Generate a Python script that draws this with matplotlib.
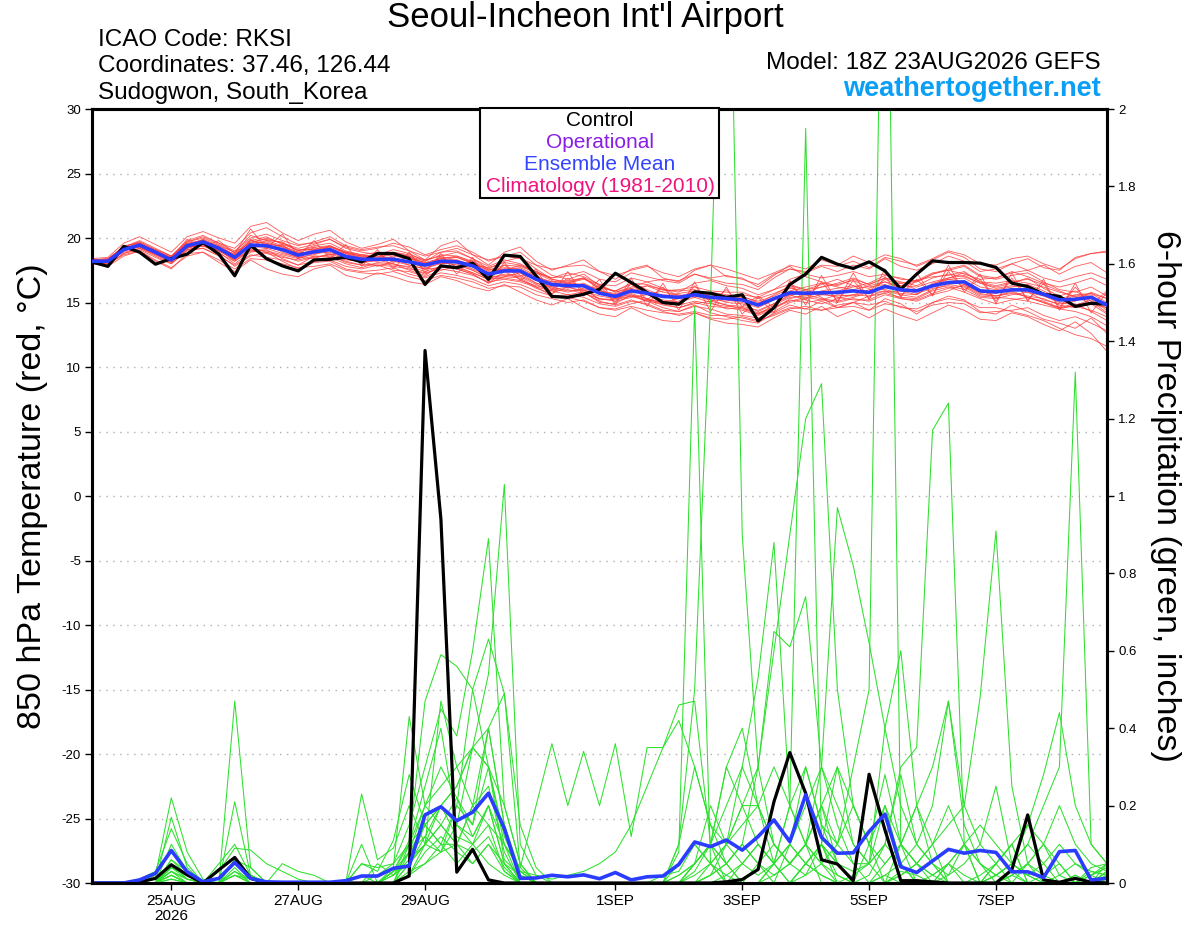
import numpy as np
import pandas as pd
import matplotlib
matplotlib.use("Agg")
import matplotlib.pyplot as plt
from matplotlib.patches import Rectangle

plt.rcParams['font.family'] = ['Liberation Sans', 'DejaVu Sans']

# ---------------- DATA ----------------
times = pd.date_range('2026-08-23 18:00', periods=65, freq='6h')

tick_dates = ['2026-08-25', '2026-08-27', '2026-08-29', '2026-09-01',
              '2026-09-03', '2026-09-05', '2026-09-07']
tick_labels = ['25AUG\n2026', '27AUG', '29AUG', '1SEP', '3SEP', '5SEP', '7SEP']

temp_ticks = [-30, -25, -20, -15, -10, -5, 0, 5, 10, 15, 20, 25, 30]
precip_ticks = [0, 0.2, 0.4, 0.6, 0.8, 1.0, 1.2, 1.4, 1.6, 1.8, 2.0]

control_temp = [18.15, 17.8, 19.35, 18.9, 17.97, 18.4, 18.75, 19.65, 18.75, 17.07,
                19.45, 18.4, 17.84, 17.45, 18.3, 18.35, 18.5, 18.15, 18.8, 18.8,
                18.4, 16.4, 17.84, 17.7, 18.05, 16.8, 18.67, 18.57, 17.07, 15.47,
                15.4, 15.64, 16.03, 17.27, 16.55, 15.78, 15.0, 14.87, 15.82, 15.72,
                15.4, 15.6, 13.57, 14.6, 16.4, 17.2, 18.5, 17.97, 17.64, 18.15,
                17.45, 16.03, 17.2, 18.23, 18.1, 18.1, 18.05, 17.72, 16.5, 16.24,
                15.64, 15.47, 14.7, 14.94, 14.87]

mean_temp = [18.2, 18.2, 19.1, 19.45, 18.9, 18.3, 19.4, 19.7, 19.2, 18.5,
             19.45, 19.4, 19.1, 18.67, 18.93, 19.1, 18.57, 18.35, 18.35, 18.35,
             18.15, 17.9, 18.2, 18.15, 17.84, 17.2, 17.45, 17.45, 16.8, 16.4,
             16.3, 16.3, 15.72, 15.47, 15.9, 15.72, 15.47, 15.4, 15.6, 15.4,
             15.31, 15.2, 14.8, 15.3, 15.75, 15.72, 15.75, 15.78, 15.9, 15.78,
             16.24, 15.98, 15.9, 16.3, 16.55, 16.6, 15.9, 15.82, 15.98, 15.98,
             15.64, 15.2, 15.25, 15.4, 14.8]

control_precip = [0, 0, 0, .003, .012, .047, .021, 0, .034, .066,
                  .012, 0, 0, 0, 0, 0, 0, 0, 0, 0,
                  .018, 1.376, .94, .028, .087, .008, 0, 0, 0, 0,
                  0, 0, 0, 0, 0, 0, 0, 0, 0, 0,
                  .003, .009, .035, .21, .337, .232, .06, .049, .006, .281,
                  .137, .006, .006, .003, 0, 0, 0, 0, .034, .176,
                  .008, .002, .012, .002, 0]

mean_precip = [0, 0, 0, .008, .025, .084, .029, .003, .012, .053,
               .012, .003, .002, .002, .002, .002, .006, .018, .018, .038,
               .044, .176, .197, .161, .183, .232, .141, .012, .013, .02,
               .016, .021, .011, .027, .008, .016, .018, .048, .106, .094,
               .111, .085, .12, .163, .107, .228, .118, .077, .078, .133,
               .178, .042, .027, .057, .087, .077, .084, .079, .029, .029,
               .014, .081, .084, .008, .012]

member_temps = [
 "18.3 | 18.4 19.3 19.8 19.2 | 18.6 19.8 20.2 19.6 | 19.2 20.4 20.8 20.1 | 19.5 19.6 19.9 19.2 | 18.9 18.7 19.1 18.8 | 18.2 18.9 19.0 18.4 | 17.6 18.2 18.5 17.6 | 16.8 16.5 16.9 16.0 | 15.4 15.6 15.1 14.6 | 14.3 14.8 14.2 13.9 | 13.6 13.4 14.2 14.8 | 14.5 15.1 14.6 15.0 | 14.4 15.3 14.9 14.1 | 15.0 15.5 15.2 14.3 | 14.1 14.8 14.3 13.7 | 13.4 13.0 13.8 12.6",
 "18.0 | 17.9 18.8 19.1 18.5 | 18.0 19.1 19.2 18.6 | 17.9 18.7 18.5 18.3 | 17.9 18.2 18.3 17.8 | 17.6 17.9 17.5 17.4 | 17.0 17.5 17.8 17.3 | 16.8 17.0 17.3 16.5 | 16.2 16.5 16.8 16.4 | 16.3 16.9 16.6 16.8 | 16.7 17.2 16.9 17.1 | 16.8 16.4 17.2 17.6 | 17.3 17.8 17.4 17.9 | 17.6 18.4 17.8 17.5 | 18.0 18.6 18.2 17.4 | 17.6 18.0 17.5 17.9 | 17.2 17.8 18.1 17.3",
 "18.2 | 18.3 19.0 19.6 18.8 | 18.5 19.2 19.9 19.0 | 18.8 19.9 19.2 19.5 | 18.4 19.3 18.7 18.9 | 18.0 18.8 18.1 18.6 | 17.5 18.6 17.7 18.3 | 17.0 17.9 17.1 17.2 | 16.0 16.9 15.9 16.3 | 15.0 16.5 15.2 16.2 | 14.8 16.3 15.0 16.0 | 14.7 15.5 14.6 16.4 | 15.2 16.6 15.1 16.7 | 15.3 17.0 15.5 16.8 | 15.6 17.4 16.0 16.8 | 15.1 16.9 15.2 16.5 | 14.6 16.2 14.8 15.9",
 "18.1 | 18.0 18.7 19.0 18.3 | 17.7 18.6 18.9 18.3 | 17.6 18.4 18.3 18.0 | 17.7 17.8 18.0 17.5 | 17.3 17.2 17.4 17.0 | 16.7 17.1 16.9 16.6 | 16.1 16.3 16.2 15.6 | 15.3 15.0 15.2 14.6 | 14.4 14.7 14.4 14.2 | 14.1 14.3 14.0 14.0 | 13.8 13.5 14.1 14.6 | 14.5 14.4 14.6 14.7 | 14.4 14.9 14.7 14.3 | 14.8 15.0 14.9 14.2 | 14.3 14.4 14.6 14.0 | 13.6 13.9 13.4 12.8",
 "18.3 | 18.2 19.2 19.6 19.0 | 18.4 19.5 19.8 19.4 | 18.7 19.7 19.9 19.6 | 19.2 19.5 19.9 19.3 | 19.0 19.2 19.6 19.3 | 18.7 19.1 19.4 18.9 | 18.2 18.6 18.9 17.9 | 17.1 16.8 17.2 16.3 | 15.8 16.1 15.6 15.2 | 15.0 15.4 15.0 14.5 | 14.6 14.1 14.6 15.1 | 15.4 15.2 15.6 15.5 | 15.9 16.8 16.3 16.6 | 17.2 17.5 17.8 17.0 | 16.8 17.1 17.3 16.6 | 16.0 15.8 16.2 15.5",
 "18.2 | 18.1 19.1 19.3 18.7 | 18.2 19.3 19.4 18.9 | 18.0 18.9 19.1 18.4 | 17.9 18.6 18.5 18.0 | 17.7 18.1 18.0 17.5 | 17.1 17.9 17.6 17.2 | 16.5 17.4 16.8 16.1 | 15.7 16.2 15.8 15.0 | 14.9 15.6 15.3 14.9 | 15.1 15.9 15.5 15.0 | 14.9 14.3 14.9 15.6 | 15.8 16.2 16.5 16.9 | 16.4 16.9 16.6 16.3 | 16.9 17.2 17.0 16.5 | 16.2 16.5 16.9 16.1 | 15.5 15.9 15.1 14.2",
 "18.2 | 18.3 19.1 19.4 19.0 | 18.5 19.6 19.6 19.3 | 18.6 19.3 19.5 19.4 | 18.9 18.8 19.4 18.8 | 18.6 18.5 18.7 18.5 | 18.1 18.4 18.6 18.2 | 17.6 17.5 17.9 17.3 | 16.7 16.1 16.5 15.9 | 15.6 15.8 16.3 15.8 | 15.6 15.4 15.8 15.6 | 15.5 15.0 15.3 15.9 | 16.2 16.5 16.2 16.0 | 16.3 16.6 16.1 15.7 | 16.1 16.3 16.0 15.4 | 15.3 15.6 15.8 15.2 | 14.9 15.1 15.8 15.3",
 "18.1 | 18.2 19.0 19.5 18.8 | 18.3 19.3 19.5 19.0 | 18.3 19.2 18.9 18.6 | 18.2 18.5 18.7 18.1 | 17.9 17.9 17.8 17.6 | 17.3 17.6 17.4 17.1 | 16.6 16.8 16.6 16.2 | 15.9 16.0 15.7 15.3 | 15.2 15.5 15.2 15.0 | 14.8 15.1 14.9 14.7 | 14.6 14.2 14.6 15.2 | 15.0 15.2 15.0 15.3 | 15.1 15.6 15.3 15.2 | 15.7 16.1 16.3 15.6 | 15.5 15.7 15.5 15.3 | 14.8 14.6 14.9 14.1",
 "18.2 | 18.2 19.2 19.5 18.9 | 18.3 19.5 19.9 19.4 | 18.9 20.2 19.8 19.7 | 19.0 19.3 19.4 18.9 | 18.6 18.6 18.8 18.4 | 18.0 18.5 18.5 18.1 | 17.5 17.9 17.8 17.3 | 16.9 17.1 17.4 16.8 | 16.6 17.3 17.0 16.7 | 16.5 17.2 16.8 16.5 | 16.4 16.0 16.9 17.6 | 17.4 17.9 17.8 18.2 | 17.7 18.5 18.2 17.9 | 18.4 19.0 18.7 18.0 | 17.9 18.4 18.6 18.0 | 17.6 18.4 18.8 18.9",
 "18.2 | 18.1 19.0 19.3 18.8 | 18.1 19.2 19.5 19.0 | 18.4 19.0 19.2 18.8 | 18.5 18.4 18.8 18.3 | 18.2 17.8 18.2 17.9 | 17.6 17.7 18.0 17.5 | 16.9 17.1 17.0 16.4 | 15.9 15.6 15.8 15.1 | 14.8 15.2 14.8 14.3 | 14.0 14.2 13.8 13.7 | 13.9 13.6 14.0 14.5 | 14.7 14.4 14.8 15.0 | 14.8 15.1 14.6 14.5 | 15.0 15.3 15.1 14.6 | 14.6 14.3 14.0 13.6 | 13.0 12.5 12.2 11.6",
 "18.3 | 18.4 19.3 19.7 19.1 | 18.6 19.6 19.8 19.3 | 18.3 19.6 19.7 19.3 | 18.6 19.1 19.2 18.7 | 18.5 18.6 18.3 18.1 | 17.9 18.4 18.3 17.8 | 17.3 17.6 17.4 16.9 | 16.6 16.5 16.4 15.9 | 15.7 16.0 15.8 15.6 | 15.5 15.8 15.6 15.4 | 15.4 15.1 15.5 16.1 | 15.9 15.6 15.5 15.6 | 15.5 15.9 15.6 15.4 | 16.0 16.4 16.2 15.5 | 15.4 15.3 15.1 14.8 | 14.5 14.8 15.0 14.6",
 "18.1 | 18.2 19.0 19.4 18.8 | 18.2 19.2 19.6 19.1 | 18.6 19.4 19.8 19.4 | 18.8 19.0 19.3 18.9 | 18.6 18.7 18.9 18.6 | 18.0 18.3 18.5 18.0 | 17.4 17.6 17.7 17.1 | 16.2 15.9 16.0 15.3 | 15.1 15.4 15.6 15.9 | 16.0 16.2 15.9 15.8 | 15.8 15.3 15.7 16.2 | 15.6 15.3 15.1 15.4 | 15.8 16.3 16.5 16.7 | 17.0 17.1 17.4 16.6 | 16.5 16.7 16.5 16.2 | 15.8 15.5 15.7 15.3",
 "18.2 | 18.3 19.2 19.6 19.0 | 18.4 19.3 19.5 19.1 | 18.2 19.1 19.0 18.7 | 18.4 18.8 18.9 18.4 | 18.1 18.3 18.0 17.7 | 17.2 17.8 17.6 17.2 | 16.5 17.0 16.9 16.2 | 15.5 15.4 15.1 14.6 | 14.5 14.9 15.2 14.8 | 14.6 15.0 14.7 14.6 | 14.4 14.0 14.5 15.3 | 15.6 15.9 16.1 16.3 | 16.1 16.6 16.3 16.2 | 16.6 16.9 17.1 16.5 | 16.1 16.3 16.2 15.7 | 15.2 15.5 14.9 14.6",
 "18.2 | 18.1 19.1 19.4 18.9 | 18.3 19.4 19.6 19.2 | 18.5 19.3 19.3 19.0 | 18.9 19.2 19.3 18.8 | 18.5 18.3 18.6 18.4 | 18.1 18.0 18.3 17.9 | 17.7 18.1 17.9 17.4 | 16.8 16.6 16.9 16.1 | 15.9 16.4 16.0 15.5 | 15.7 15.9 15.4 15.2 | 15.0 14.6 15.2 15.6 | 15.2 14.9 15.3 15.6 | 16.0 16.0 15.7 15.6 | 16.5 16.8 16.9 16.2 | 16.0 16.2 16.4 15.9 | 15.3 15.6 15.7 15.0",
 "18.2 | 18.2 19.1 19.5 18.9 | 18.3 19.3 19.7 19.2 | 18.6 19.8 19.6 19.3 | 18.8 19.0 19.0 18.5 | 18.3 18.4 18.5 18.1 | 17.7 18.0 18.1 17.6 | 17.1 17.4 17.3 16.8 | 16.3 16.5 16.2 15.8 | 15.6 16.1 16.3 16.0 | 15.8 16.5 16.7 16.3 | 16.1 15.6 16.0 16.8 | 17.2 16.9 17.1 17.4 | 17.0 17.2 16.8 16.7 | 17.3 17.5 17.2 16.8 | 16.9 17.4 17.0 16.5 | 16.2 16.5 16.9 16.3",
 "18.2 | 18.3 19.2 19.4 19.1 | 18.2 19.4 19.8 19.0 | 18.4 19.4 19.6 18.9 | 18.5 18.7 19.1 18.4 | 18.2 18.2 18.4 17.9 | 17.6 18.1 17.9 17.5 | 16.9 17.2 17.1 16.5 | 16.1 15.8 16.1 15.2 | 15.3 15.7 15.3 15.0 | 15.3 15.5 15.2 15.1 | 15.3 14.9 15.6 16.3 | 16.0 15.4 14.6 15.0 | 15.5 15.7 15.4 15.3 | 15.9 16.2 15.8 15.3 | 14.9 15.2 15.4 15.0 | 14.5 14.3 13.9 13.2",
 "18.3 | 18.2 19.2 19.3 18.8 | 18.4 19.5 19.7 19.3 | 18.7 19.8 20.1 19.5 | 19.1 19.1 19.4 18.9 | 18.7 18.9 18.7 18.6 | 18.2 18.7 18.6 18.1 | 17.5 17.7 17.6 17.0 | 16.6 16.7 16.9 16.2 | 15.9 16.5 16.4 16.0 | 15.9 16.0 15.6 15.5 | 15.6 15.4 16.0 16.4 | 16.0 16.2 16.4 16.7 | 16.2 16.4 15.9 15.6 | 16.4 16.9 17.3 16.6 | 16.3 16.6 16.8 16.4 | 15.9 15.4 15.6 14.7",
 "18.1 | 18.2 18.9 19.2 18.7 | 18.1 19.1 19.4 18.8 | 18.2 19.0 18.8 18.5 | 18.3 18.6 18.6 18.2 | 17.9 18.0 17.9 17.8 | 17.4 17.8 17.7 17.3 | 16.8 16.9 16.7 16.3 | 16.0 16.2 15.9 15.5 | 15.3 15.5 15.1 14.9 | 14.6 14.9 15.1 14.8 | 14.5 14.1 14.8 15.4 | 15.5 15.7 15.4 15.2 | 15.2 15.8 15.9 16.0 | 16.2 16.6 16.4 15.7 | 15.5 15.8 15.4 15.1 | 14.6 14.7 14.4 13.9",
 "18.4 | 18.5 19.6 20.1 19.5 | 18.9 20.1 20.5 20.0 | 19.6 20.9 21.2 20.4 | 19.8 20.3 20.6 19.7 | 19.2 19.5 19.9 19.0 | 18.3 19.4 19.8 18.7 | 17.9 18.9 19.3 18.2 | 17.5 17.9 18.3 17.4 | 16.8 17.6 17.9 16.9 | 16.6 17.5 17.9 17.0 | 16.9 16.2 17.1 17.9 | 17.6 18.3 17.9 18.6 | 18.1 18.7 18.4 17.8 | 18.3 18.9 18.5 17.6 | 17.4 18.0 18.4 17.7 | 17.5 18.5 18.8 19.0",
 "18.0 | 17.8 18.6 19.0 18.2 | 17.6 18.8 18.9 18.1 | 17.4 18.3 17.6 17.2 | 17.0 17.6 17.9 17.1 | 16.8 17.3 17.0 16.6 | 16.4 17.0 16.7 16.2 | 15.9 16.4 15.8 15.2 | 14.8 15.3 14.6 14.1 | 13.9 14.6 14.0 13.6 | 13.5 14.2 13.7 13.4 | 13.3 13.1 13.8 14.4 | 14.1 14.7 13.9 14.4 | 13.8 14.5 14.0 13.6 | 14.2 14.8 14.4 13.7 | 13.6 14.2 13.9 13.3 | 12.8 13.5 12.6 11.2",
 "18.2 | 18.3 19.4 19.6 18.8 | 18.5 19.9 19.3 19.8 | 18.8 20.7 19.2 20.3 | 18.6 19.8 18.4 19.5 | 17.8 19.1 17.6 18.9 | 17.3 18.8 17.2 18.5 | 16.6 18.1 16.7 17.6 | 15.6 17.4 15.5 16.8 | 14.8 16.9 14.7 16.5 | 14.4 16.6 14.3 16.2 | 14.1 15.4 14.2 16.7 | 14.8 17.1 15.0 17.3 | 15.2 17.6 15.4 17.3 | 15.5 17.9 15.8 17.2 | 14.9 17.3 15.1 16.8 | 14.4 16.5 14.2 15.8",
 "18.2 | 18.2 19.1 19.6 19.0 | 18.5 19.7 20.1 19.6 | 19.0 20.0 20.3 19.8 | 19.4 19.7 20.1 19.4 | 19.1 19.3 19.4 19.0 | 18.6 18.9 19.2 18.7 | 18.3 18.6 18.4 17.9 | 17.6 17.8 17.9 17.4 | 17.1 17.5 17.8 17.3 | 17.0 17.6 17.9 17.6 | 17.2 16.8 17.3 17.8 | 17.0 16.6 16.3 16.8 | 16.4 16.9 16.5 16.0 | 16.3 16.8 16.6 15.9 | 15.5 15.9 15.4 15.0 | 14.6 14.9 14.3 13.6",
 "18.1 | 18.0 18.8 19.2 18.6 | 18.0 19.0 19.2 18.7 | 17.8 18.6 18.9 18.2 | 17.6 18.1 18.2 17.6 | 17.4 17.5 17.7 17.2 | 16.9 17.3 17.1 16.8 | 16.3 16.6 16.4 15.9 | 15.5 15.6 15.4 14.9 | 14.7 15.1 14.9 14.4 | 14.3 14.7 14.5 14.1 | 14.0 13.8 14.3 15.0 | 15.3 15.6 15.9 16.2 | 16.5 17.1 16.9 16.6 | 17.2 17.6 17.9 17.1 | 16.9 17.3 17.5 16.9 | 16.6 17.0 17.3 16.8",
 "18.3 | 18.3 19.3 19.7 19.1 | 18.6 19.7 20.0 19.5 | 18.9 19.6 20.0 19.6 | 19.0 19.4 19.6 19.0 | 18.7 18.4 18.9 18.7 | 18.3 18.6 18.9 18.4 | 17.8 18.3 18.0 17.4 | 16.9 17.3 17.0 16.4 | 15.8 16.2 16.6 16.1 | 15.5 15.6 15.2 14.8 | 14.7 14.4 14.9 15.5 | 16.0 16.4 16.8 16.3 | 15.7 15.9 15.3 15.1 | 15.6 15.9 16.4 15.8 | 15.7 16.1 15.8 15.5 | 15.0 14.8 15.2 14.4",
]

member_precips = [
 "0 | 0 0 .01 .03 | .14 .05 0 0 | .02 .01 0 0 | 0 0 0 0 | 0 .02 .05 .15 | .3 .45 .38 .6 | .89 .2 .05 0 | 0 0 0 0 | 0 0 0 .02 | .03 .1 .05 0 | 0 0 .05 .2 | .1 0 0 0 | 0 0 .03 .02 | 0 0 0 0 | .05 .1 0 0 | 0 0 .02 .04",
 "0 | 0 0 0 .02 | .22 .08 .01 0 | .06 .04 0 0 | 0 0 0 0 | .05 .03 .11 .28 | .15 .2 .25 .35 | .54 1.03 .1 .02 | 0 0 0 0 | 0 0 0 0 | 0 0 .02 .1 | .3 .2 .1 .05 | .02 .1 .3 .1 | .05 .4 .6 .2 | .05 0 0 0 | 0 .02 .05 .02 | 0 0 0 .03",
 "0 | 0 0 0 0 | .06 .03 0 .03 | .09 .085 .05 .03 | .01 0 0 0 | .23 .06 .09 .2 | .1 .15 .22 .12 | .2 .1 .04 .2 | .36 .2 .34 .2 | .36 .12 .35 .35 | .46 .47 .1 0 | 0 0 0 0 | .05 .02 0 0 | 0 .02 0 0 | 0 0 0 0 | 0 .03 0 0 | 0 0 0 0",
 "0 | 0 0 0 0 | .04 .02 0 0 | .47 .04 0 0 | 0 0 0 0 | 0 0 0 .08 | .2 .3 .22 .15 | .3 .1 .03 0 | 0 0 0 0 | 0 0 0 0 | .1 .5 1.5 2.9 | .9 .3 .1 .05 | .1 .2 .05 0 | 0 0 .1 .2 | .1 0 0 0 | 0 0 0 .02 | .05 0 0 0",
 "0 | 0 0 0 0 | .1 .03 0 0 | .21 .02 0 .05 | .03 .02 0 0 | .1 0 .03 .11 | .47 .59 .56 .5 | .63 .49 .15 .04 | 0 0 0 0 | 0 0 0 0 | .08 1.49 .05 0 | 0 0 0 .1 | .3 .15 .05 0 | 0 0 0 0 | 0 .05 0 0 | .02 .05 .02 0 | 0 .02 0 .02",
 "0 | 0 0 0 0 | .17 .04 0 0 | .06 .02 0 0 | 0 0 0 0 | .02 0 .04 .43 | .2 .25 .3 .2 | .4 .15 .02 0 | 0 0 0 0 | 0 0 0 0 | 0 .05 .2 .1 | .2 .2 .3 .2 | 1.95 .1 0 0 | 0 0 .02 .05 | .1 .2 .1 0 | 0 0 0 0 | 0 0 .03 .02",
 "0 | 0 0 0 0 | .06 .02 0 .05 | .1 .02 0 0 | 0 0 0 0 | 0 0 .02 .05 | .1 .08 .15 .35 | .3 .2 .05 0 | 0 0 0 0 | 0 0 0 0 | 0 .03 .1 .05 | .1 .3 .6 .9 | 1.2 1.29 .5 .2 | .1 0 0 0 | 0 0 0 .02 | .05 0 0 0 | 0 0 0 0",
 "0 | 0 0 0 0 | .03 .01 0 0 | 0 0 0 0 | 0 0 0 0 | 0 0 0 .1 | .15 .1 .1 .2 | .25 .08 0 0 | 0 0 0 0 | 0 0 0 0 | 0 0 0 .02 | .05 .1 .05 .2 | .3 .15 .1 .3 | .5 3.0 .1 0 | 0 0 0 0 | .05 .1 0 0 | 0 0 0 .03",
 "0 | 0 0 0 0 | .02 0 0 0 | 0 0 0 0 | 0 0 0 0 | 0 0 0 .05 | .1 .15 .1 .2 | .15 .1 0 0 | 0 0 0 0 | 0 0 0 0 | 0 0 0 0 | .05 .1 .05 .1 | .2 .3 .2 .1 | .05 .1 .3 .35 | 1.17 1.24 .1 0 | 0 0 0 0 | 0 0 0 .02",
 "0 | 0 0 0 0 | .04 .02 0 0 | 0 0 0 0 | 0 0 0 0 | 0 0 .02 .08 | .12 .2 .15 .1 | .2 .05 0 0 | 0 0 0 0 | 0 0 0 0 | .02 .05 .1 .05 | 0 .05 .1 .05 | .1 .2 .3 .2 | .1 .05 .1 .2 | .3 .47 .2 .48 | .91 .25 .05 0 | 0 0 0 .03",
 "0 | 0 0 0 .01 | .05 .02 0 0 | .03 .01 0 0 | 0 0 0 0 | 0 0 .03 .08 | .15 .2 .12 .1 | .05 .02 0 0 | 0 0 0 0 | 0 0 0 0 | 0 0 .02 .05 | .1 .05 0 0 | .05 .1 .05 0 | 0 .05 .1 .05 | 0 .05 .1 .05 | .02 .05 .1 .2 | .3 1.32 .1 .05",
 "0 | 0 0 0 0 | .03 .01 0 0 | .06 .02 0 0 | 0 0 0 0 | 0 0 0 .03 | .05 .1 .2 .15 | .4 .15 .03 0 | 0 0 0 0 | 0 0 0 0 | 0 .05 .1 .2 | .3 .53 .88 .2 | .1 .3 .97 .82 | .62 .4 .2 .1 | .05 0 0 0 | 0 0 .05 .1 | .05 0 0 .05",
 "0 | 0 0 0 0 | .04 .01 0 0 | .02 0 0 0 | 0 0 0 0 | .05 .04 .05 .1 | .25 .4 .15 .12 | .2 .05 .02 0 | 0 0 0 0 | 0 0 0 0 | 0 0 .05 .1 | .2 .3 .65 .61 | .74 .3 .15 .05 | 0 0 .02 .05 | .02 0 0 0 | .02 .05 .1 .05 | 0 0 .04 .05",
 "0 | 0 0 0 0 | .02 0 0 0 | 0 0 0 0 | 0 0 0 0 | 0 0 0 .02 | .05 .08 .1 .05 | .1 .03 0 0 | 0 0 0 0 | 0 0 0 0 | 0 .02 .05 .1 | .15 .2 .1 .05 | .1 .05 .1 .2 | .1 .28 .1 .05 | .1 .15 .2 .1 | .05 .1 .15 .28 | .44 .2 .1 .05",
 "0 | 0 0 0 0 | .03 0 0 0 | 0 0 0 0 | 0 0 0 0 | 0 0 0 .02 | .08 .12 .08 .05 | .1 .05 0 0 | 0 0 0 0 | 0 0 0 0 | 0 0 .02 .05 | .1 .05 .02 .05 | .1 .2 .1 .05 | .05 .1 .28 .1 | .05 .02 .05 .1 | .25 .05 .02 .05 | .1 .05 .02 .04",
 "0 | 0 0 0 0 | .01 0 0 0 | 0 0 0 0 | 0 0 0 0 | 0 .05 .02 .06 | .1 .47 .3 .35 | .3 .06 .02 0 | 0 0 0 0 | 0 0 0 0 | .05 .1 .05 .02 | 0 0 .02 .05 | .1 .05 .02 0 | .02 .1 .05 0 | 0 0 0 0 | .02 0 0 0 | .02 .05 .03 .02",
 "0 | 0 0 0 0 | .02 0 0 0 | .02 0 0 0 | 0 0 0 0 | 0 0 0 .02 | .1 .2 .25 .35 | .4 .49 .04 0 | 0 0 0 0 | 0 0 0 0 | 0 .05 .1 .3 | .2 .1 .05 0 | .05 .1 .05 .03 | .05 .2 .05 0 | .02 .05 .02 0 | 0 .02 0 0 | 0 0 .02 0",
 "0 | 0 0 0 0 | .01 0 0 0 | 0 0 0 0 | 0 0 0 0 | 0 0 .03 .05 | .12 .08 .2 .5 | .3 .12 .03 .02 | .01 .02 .03 .05 | .08 .15 .25 .35 | .42 .3 .15 .1 | .05 .02 .05 .1 | .05 .1 .02 0 | 0 .02 .05 .1 | .2 .47 .15 .05 | .02 .05 .02 0 | 0 .02 0 .01",
 "0 | 0 0 0 0 | .04 .02 0 0 | .04 0 0 0 | 0 0 0 0 | 0 0 0 .05 | .15 .1 .05 .1 | .15 .03 0 0 | 0 0 0 0 | 0 0 0 0 | .1 .3 .15 .05 | 0 0 .05 .1 | .05 .02 0 .02 | .05 0 0 0 | 0 .02 .1 .05 | 0 .02 .05 .1 | .2 .1 .05 .03",
 "0 | 0 0 0 0 | .05 .01 0 0 | .03 0 0 0 | 0 0 0 0 | 0 0 .03 .1 | .2 .15 .1 .08 | .12 .04 0 0 | 0 0 0 0 | 0 0 0 0 | .02 .05 .1 .3 | .4 .2 .05 0 | .02 .05 0 0 | .1 .2 .1 .05 | .02 .05 .1 .15 | .1 .05 .15 .1 | .02 0 .02 .05",
]


def parse(s):
    vals = [float(v) for v in s.replace('|', ' ').split()]
    assert len(vals) == 65, (len(vals), s[:30])
    return vals


# ---------------- FIGURE ----------------
fig = plt.figure(figsize=(12, 9.27), dpi=100)
rect = [92 / 1200, 1 - 883 / 927, (1107 - 92) / 1200, (883 - 109) / 927]

ax_t = fig.add_axes(rect)
ax_t.set_zorder(1)
ax_p = ax_t.twinx()
ax_p.set_zorder(2)
ax_p.patch.set_visible(False)
ax_top = ax_t.twinx()
ax_top.set_zorder(3)
ax_top.patch.set_visible(False)

RED = '#ff3b3b'
GREEN = '#2ee02e'
BLUE = '#2a3cff'

for s in member_temps:
    ax_t.plot(times, parse(s), color=RED, lw=0.6, alpha=0.85)

for s in member_precips:
    ax_p.plot(times, parse(s), color=GREEN, lw=0.75)

ax_p.plot(times, control_precip, color='black', lw=2.3)
ax_p.plot(times, mean_precip, color=BLUE, lw=2.6)

ax_top.plot(times, control_temp, color='black', lw=2.3)
ax_top.plot(times, mean_temp, color=BLUE, lw=2.6)

xmin, xmax = times[0], times[-1]
for a in (ax_t, ax_p, ax_top):
    a.set_xlim(xmin, xmax)
ax_t.set_ylim(-30, 30)
ax_top.set_ylim(-30, 30)
ax_p.set_ylim(0, 2)

ax_top.axis('off')

ax_t.set_yticks(temp_ticks)
ax_t.set_yticklabels([str(t) for t in temp_ticks])
ax_p.set_yticks(precip_ticks)
ax_p.set_yticklabels(['%g' % v for v in precip_ticks])

ax_t.set_xticks(pd.to_datetime(tick_dates))
ax_t.set_xticklabels(tick_labels, linespacing=1.05)

ax_t.tick_params(axis='y', direction='out', length=5, width=1, labelsize=9.5, pad=3)
ax_p.tick_params(axis='y', direction='out', length=5, width=1, labelsize=9.5, pad=3)
ax_t.tick_params(axis='x', direction='out', length=5, width=1, labelsize=11, pad=3)

for g in temp_ticks[1:-1]:
    ax_t.axhline(g, color='#b0b0b0', lw=1.0, ls=(0, (1, 4)), zorder=0)

for a in (ax_t, ax_p):
    for sp in a.spines.values():
        sp.set_linewidth(2.2)
        sp.set_color('black')

# axis labels
fig.text(33 / 1200, 1 - 496 / 927, '850 hPa Temperature (red, \u00b0C)',
         rotation=90, ha='center', va='center', fontsize=24.5)
fig.text(1166 / 1200, 1 - 496 / 927, '6-hour Precipitation (green, inches)',
         rotation=-90, ha='center', va='center', fontsize=24.5)

# titles / header
fig.text(585 / 1200, 1 - 18 / 927, "Seoul-Incheon Int'l Airport",
         ha='center', va='center', fontsize=25)
fig.text(98 / 1200, 1 - 40 / 927, 'ICAO Code: RKSI', ha='left', va='center', fontsize=17.5)
fig.text(98 / 1200, 1 - 66 / 927, 'Coordinates: 37.46, 126.44', ha='left', va='center', fontsize=17.5)
fig.text(98 / 1200, 1 - 93 / 927, 'Sudogwon, South_Korea', ha='left', va='center', fontsize=17.5)
fig.text(1101 / 1200, 1 - 63 / 927, 'Model: 18Z 23AUG2026 GEFS', ha='right', va='center', fontsize=17.5)
fig.text(1101 / 1200, 1 - 89 / 927, 'weathertogether.net', ha='right', va='center',
         fontsize=19.5, fontweight='bold', color='#0a9ff5')

# legend box
fig.patches.append(Rectangle((480 / 1200, 1 - 198 / 927), (719 - 480) / 1200, (198 - 108) / 927,
                             transform=fig.transFigure, facecolor='white',
                             edgecolor='black', lw=1.5, zorder=5))
leg_items = [('Control', 'black'), ('Operational', '#8a1ee6'),
             ('Ensemble Mean', '#3344ff'), ('Climatology (1981-2010)', '#f0147f')]
for k, (txt, col) in enumerate(leg_items):
    fig.text(600 / 1200, 1 - (121 + 21.7 * k) / 927, txt, ha='center', va='center',
             fontsize=15, color=col, zorder=6)

fig.savefig('out.png', dpi=100)
